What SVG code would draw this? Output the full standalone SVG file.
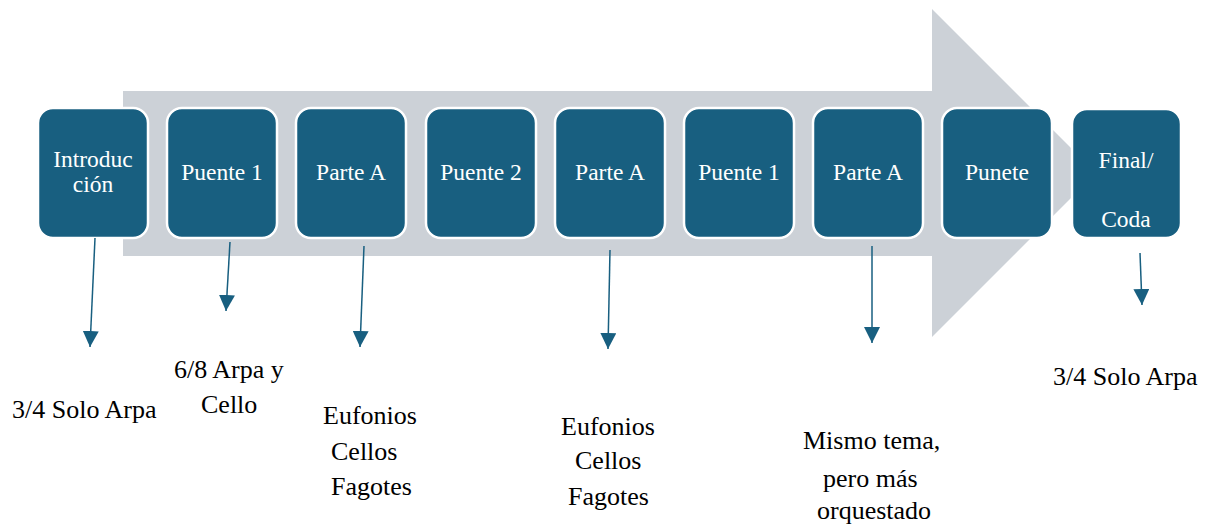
<svg xmlns="http://www.w3.org/2000/svg" width="1207" height="526" viewBox="0 0 1207 526">
<defs>
<style>
.box{fill:#185f80;stroke:#ffffff;stroke-width:2.5}
.nt{font-family:'Liberation Serif','DejaVu Serif',serif;font-size:23.5px;fill:#ffffff;text-anchor:middle}
.lb{font-family:'Liberation Serif','DejaVu Serif',serif;font-size:26px;fill:#000000}
.con{stroke:#185f80;stroke-width:1.5;fill:none;marker-end:url(#ah)}
</style>
<marker id="ah" markerUnits="userSpaceOnUse" markerWidth="16" markerHeight="16" viewBox="0 0 15 15" refX="15" refY="7.5" orient="auto">
<path d="M0,0 L15,7.5 L0,15 z" fill="#185f80"/>
</marker>
</defs>
<rect width="1207" height="526" fill="#ffffff"/>
<polygon id="bigArrow" points="123,91 932,91 932,9 1096,173 932,337 932,256 123,256" fill="#ccd1d7"/>
<g id="node-intro"><rect class="box" x="38" y="108" width="110" height="130" rx="15"/><text class="nt" x="93" y="167">Introduc</text><text class="nt" x="93" y="192">ción</text></g>
<g id="node-puente1a"><rect class="box" x="167" y="108" width="110" height="130" rx="15"/><text class="nt" x="222" y="180">Puente 1</text></g>
<g id="node-parteA1"><rect class="box" x="296" y="108" width="110" height="130" rx="15"/><text class="nt" x="351" y="180">Parte A</text></g>
<g id="node-puente2"><rect class="box" x="426" y="108" width="110" height="130" rx="15"/><text class="nt" x="481" y="180">Puente 2</text></g>
<g id="node-parteA2"><rect class="box" x="555" y="108" width="110" height="130" rx="15"/><text class="nt" x="610" y="180">Parte A</text></g>
<g id="node-puente1b"><rect class="box" x="684" y="108" width="110" height="130" rx="15"/><text class="nt" x="739" y="180">Puente 1</text></g>
<g id="node-parteA3"><rect class="box" x="813" y="108" width="110" height="130" rx="15"/><text class="nt" x="868" y="180">Parte A</text></g>
<g id="node-punete"><rect class="box" x="942" y="108" width="110" height="130" rx="15"/><text class="nt" x="997" y="180">Punete</text></g>
<g id="node-final"><rect class="box" x="1072" y="109" width="109" height="129" rx="15" stroke="none"/><text class="nt" x="1126" y="168">Final/</text><text class="nt" x="1126" y="227">Coda</text></g>
<g id="connectors">
<line class="con" x1="95" y1="238" x2="90" y2="347"/>
<line class="con" x1="230" y1="242" x2="226" y2="311"/>
<line class="con" x1="364" y1="246" x2="360" y2="347"/>
<line class="con" x1="610" y1="250" x2="608" y2="349"/>
<line class="con" x1="872" y1="246" x2="872" y2="343"/>
<line class="con" x1="1140" y1="253" x2="1142" y2="305"/>
</g>
<g id="labels">
<text class="lb" x="12" y="418">3/4 Solo Arpa</text>
<text class="lb" x="174" y="378">6/8 Arpa y</text>
<text class="lb" x="201" y="413">Cello</text>
<text class="lb" x="323" y="424">Eufonios</text>
<text class="lb" x="331" y="460">Cellos</text>
<text class="lb" x="331" y="495">Fagotes</text>
<text class="lb" x="561" y="435">Eufonios</text>
<text class="lb" x="575" y="469">Cellos</text>
<text class="lb" x="568" y="505">Fagotes</text>
<text class="lb" x="803" y="449">Mismo tema,</text>
<text class="lb" x="823" y="487">pero más</text>
<text class="lb" x="817" y="519">orquestado</text>
<text class="lb" x="1053" y="385">3/4 Solo Arpa</text>
</g>
</svg>
